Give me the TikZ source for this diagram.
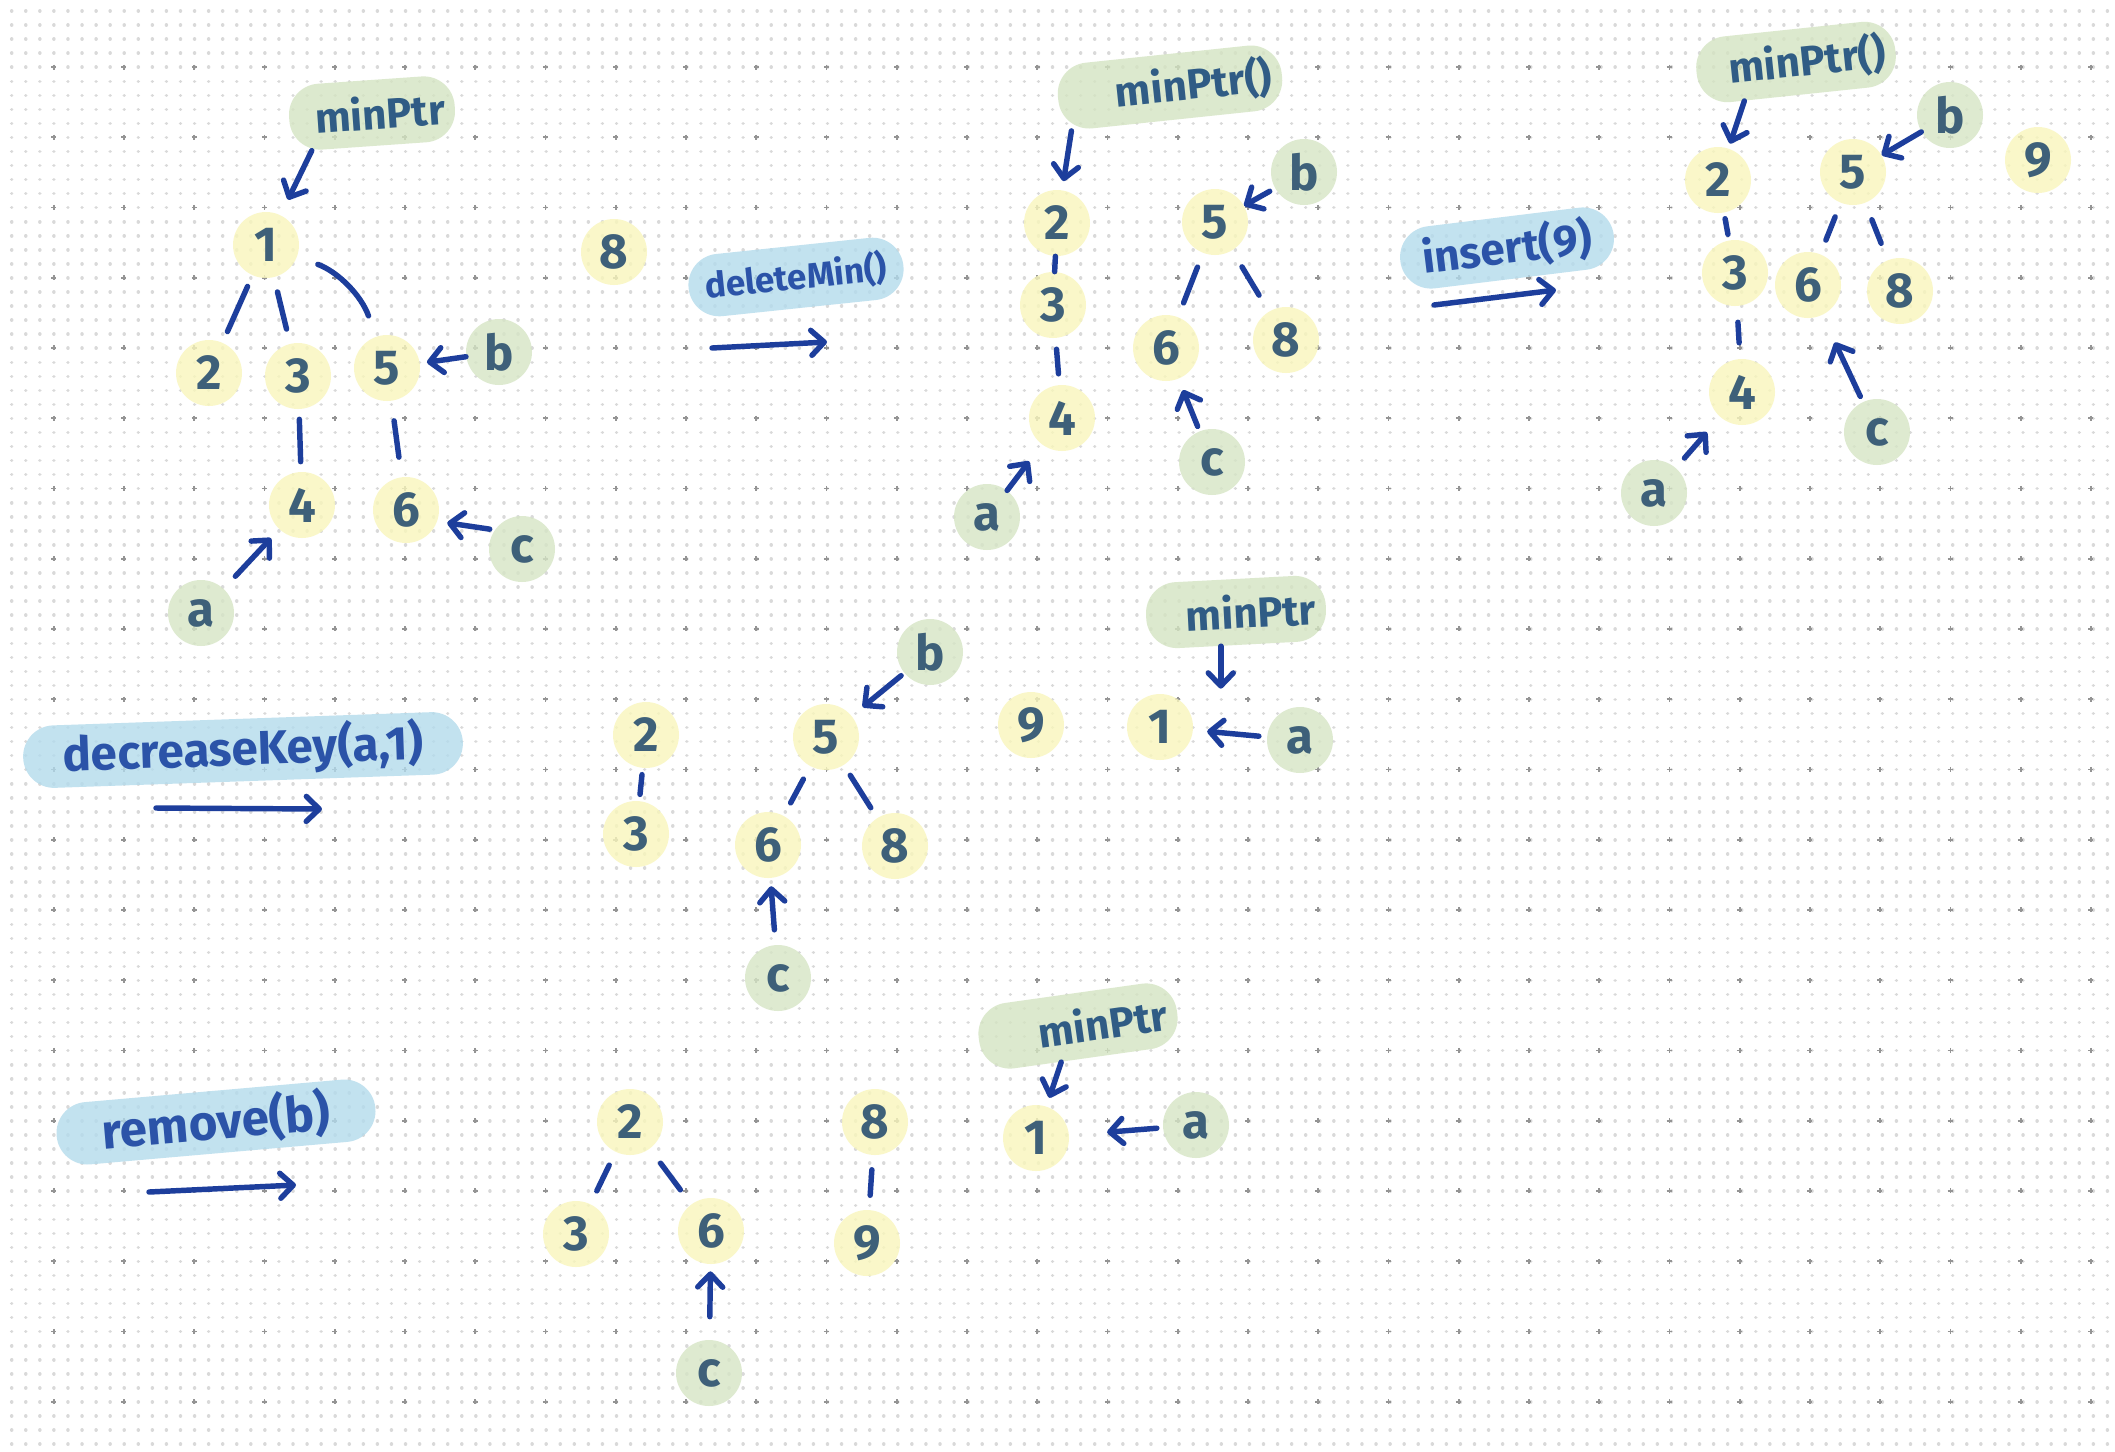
\documentclass[tikz,border=0pt]{standalone}
\usepackage{fontspec}
\setmainfont{Fira Sans}
\usetikzlibrary{arrows.meta}

\definecolor{keyfill}{HTML}{F9F6BC}
\definecolor{handlefill}{HTML}{D6E5C5}
\definecolor{ptrfill}{HTML}{D4E4C2}
\definecolor{opfill}{HTML}{B3DBEC}
\definecolor{inkgrey}{HTML}{3E6079}
\definecolor{ptrink}{HTML}{305C85}
\definecolor{opink}{HTML}{2B53A8}
\definecolor{pen}{HTML}{1D3E9C}

\tikzset{
  keynode/.style={circle, fill=keyfill, fill opacity=.8, text opacity=1,
    minimum size=1.32cm, inner sep=0pt, text=inkgrey,
    font=\fontsize{28}{30}\selectfont\bfseries},
  handlenode/.style={keynode, fill=handlefill},
  ptrbox/.style={rectangle, rounded corners=.62cm, fill=ptrfill,
    fill opacity=.8, text opacity=1, text=ptrink, inner ysep=0pt,
    inner xsep=.2cm, text width=#1, align=right, minimum height=1.32cm,
    font=\fontsize{24}{26}\selectfont\bfseries},
  opbox/.style={ptrbox=#1, fill=opfill, text=opink, align=center,
    minimum height=1.25cm, font=\fontsize{25}{27}\selectfont\bfseries},
  treeline/.style={draw=pen, line width=3.1pt, line cap=round},
  pointer/.style={treeline, -{Straight Barb[length=.26cm,width=.5cm,round]}},
  griddot/.style={draw=black!15, line width=.07cm, line cap=round,
    dash pattern=on .01pt off .281cm},
  gridmark/.style={draw=black!42, line width=.035cm,
    dash pattern=on .1cm off 1.305cm}
}

\begin{document}
\begin{tikzpicture}[x=0.02cm,y=-0.02cm]
  % Paper and dotted grid
  \fill[white] (0,0) rectangle (2115,1451);
  \useasboundingbox (0,0) rectangle (2115,1451);
  \foreach \j in {0,...,102}
    \draw[griddot] (11.7,{11+14.05*\j}) -- (2115,{11+14.05*\j});
  \foreach \j in {0,...,19}
    \draw[gridmark] (51.2,{67+70.25*\j}) -- (2115,{67+70.25*\j});
  \foreach \i in {0,...,29}
    \draw[gridmark] ({53.7+70.25*\i},64.5) -- ({53.7+70.25*\i},1451);

  % Start heap
  \node[ptrbox=2.92cm, rotate=4] (Aptr) at (372,113) {minPtr};
  \foreach \k/\x/\y in {1/266/245, 2/209/373, 3/298/376, 5/387/368,
                        4/302/505, 6/406/510, 8/614/252}
    \node[keynode] (A\k) at (\x,\y) {\k};
  \foreach \h/\x/\y in {a/201/613, b/499/352, c/522/549}
    \node[handlenode] (A\h) at (\x,\y) {\h};
  \foreach \u/\v/\s in {1/2/.24cm, 1/3/.3cm, 3/4/.2cm, 5/6/.4cm}
    \draw[treeline, shorten <=\s, shorten >=\s] (A\u) -- (A\v);
  \draw[treeline, shorten <=.44cm, shorten >=.44cm] (A1) to[bend left=25] (A5);
  \draw[pointer, shorten >=.34cm] (Aptr.208) -- (A1);
  \draw[pointer, shorten >=.14cm] (Ab) -- (A5);
  \draw[pointer, shorten <=.1cm, shorten >=.2cm] (Ac.145) -- (A6.-20);
  \draw[pointer, shorten <=.34cm, shorten >=.24cm] (Aa) -- (A4);

  % deleteMin()
  \node[opbox=3.92cm, rotate=6,
        font=\fontsize{20}{22}\selectfont\bfseries] (opdel) at (796,277) {deleteMin()};
  \coordinate (delfrom) at (712,348);
  \coordinate (delto) at (827,342);
  \draw[pointer] (delfrom) -- (delto);

  % After deleteMin
  \node[ptrbox=4.1cm, rotate=6] (Bptr) at (1170,87) {minPtr()};
  \foreach \k/\x/\y in {2/1057/223, 3/1053/305, 4/1062/418, 5/1215/222,
                        6/1166/348, 8/1286/340}
    \node[keynode] (B\k) at (\x,\y) {\k};
  \foreach \h/\x/\y in {a/987/517, b/1304/172, c/1212/462}
    \node[handlenode] (B\h) at (\x,\y) {\h};
  \foreach \u/\v/\s in {2/3/0cm, 3/4/.22cm, 5/6/.3cm, 5/8/.38cm}
    \draw[treeline, shorten <=\s, shorten >=\s] (B\u) -- (B\v);
  \draw[pointer, shorten >=.18cm] (Bptr.198) -- (B2);
  \draw[pointer, shorten <=.12cm] (Bb) -- (B5);
  \draw[pointer, shorten <=.1cm, shorten >=.24cm] (Bc) -- (B6);
  \draw[pointer, shorten >=.42cm] (Ba) -- (B4);

  % insert(9)
  \node[opbox=3.9cm, rotate=7] (opins) at (1507,248) {insert(9)};
  \coordinate (insfrom) at (1434,305);
  \coordinate (insto) at (1556,290);
  \draw[pointer] (insfrom) -- (insto);

  % After insert
  \node[ptrbox=3.6cm, rotate=6] (Cptr) at (1796,62) {minPtr()};
  \foreach \k/\x/\y in {2/1718/180, 3/1735/273, 4/1742/392, 5/1853/172,
                        6/1808/285, 8/1900/291, 9/2038/160}
    \node[keynode] (C\k) at (\x,\y) {\k};
  \foreach \h/\x/\y in {a/1654/493, b/1950/115, c/1877/432}
    \node[handlenode] (C\h) at (\x,\y) {\h};
  \foreach \u/\v/\s in {2/3/.12cm, 3/4/.32cm, 5/6/.3cm, 5/8/.36cm}
    \draw[treeline, shorten <=\s, shorten >=\s] (C\u) -- (C\v);
  \draw[pointer, shorten >=.1cm] (Cptr.211) -- (C2);
  \draw[pointer] (Cb) -- (C5);
  \draw[pointer, shorten <=.12cm, shorten >=.6cm] (Cc) -- (C6);
  \draw[pointer, shorten <=.26cm, shorten >=.4cm] (Ca) -- (C4);

  % decreaseKey(a,1)
  \node[opbox=8.4cm, rotate=2,
        font=\fontsize{27}{29}\selectfont\bfseries] (opdec) at (243,750) {decreaseKey(a,1)};
  \coordinate (decfrom) at (156,808);
  \coordinate (decto) at (322,809);
  \draw[pointer] (decfrom) -- (decto);

  % After decreaseKey
  \node[ptrbox=3.2cm, rotate=3] (Dptr) at (1236,612) {minPtr};
  \foreach \k/\x/\y in {1/1160/727, 2/646/735, 3/636/834, 5/826/737,
                        6/768/845, 8/895/846, 9/1031/725}
    \node[keynode] (D\k) at (\x,\y) {\k};
  \foreach \h/\x/\y in {a/1300/740, b/930/652, c/778/978}
    \node[handlenode] (D\h) at (\x,\y) {\h};
  \foreach \u/\v/\s in {2/3/.13cm, 5/6/.29cm, 5/8/.24cm}
    \draw[treeline, shorten <=\s, shorten >=\s] (D\u) -- (D\v);
  \draw[pointer, shorten >=.1cm] (Dptr.243) -- (Dptr.243 |- D1.north);
  \draw[pointer, shorten <=.16cm, shorten >=.28cm] (Da) -- (D1);
  \draw[pointer, shorten <=.08cm, shorten >=.28cm] (Db) -- (D5);
  \draw[pointer, shorten <=.3cm, shorten >=.16cm] (Dc) -- (D6);

  % remove(b)
  \node[opbox=6cm, rotate=5,
        font=\fontsize{28}{30}\selectfont\bfseries] (oprem) at (216,1122) {remove(b)};
  \coordinate (remfrom) at (149,1192);
  \coordinate (remto) at (296,1185);
  \draw[pointer] (remfrom) -- (remto);

  % After remove
  \node[ptrbox=3.6cm, rotate=8] (Eptr) at (1078,1026) {minPtr};
  \foreach \k/\x/\y in {1/1036/1138, 2/630/1122, 3/576/1234, 6/711/1231,
                        8/875/1122, 9/867/1243}
    \node[keynode] (E\k) at (\x,\y) {\k};
  \foreach \h/\x/\y in {a/1196/1125, c/709/1373}
    \node[handlenode] (E\h) at (\x,\y) {\h};
  \foreach \u/\v/\s in {2/3/.29cm, 2/6/.36cm, 8/9/.29cm}
    \draw[treeline, shorten <=\s, shorten >=\s] (E\u) -- (E\v);
  \draw[pointer, shorten >=.18cm] (Eptr.237) -- (E1);
  \draw[pointer, shorten <=.12cm, shorten >=.76cm] (Ea) -- (E1);
  \draw[pointer, shorten <=.46cm, shorten >=.14cm] (Ec) -- (E6);
\end{tikzpicture}
\end{document}
